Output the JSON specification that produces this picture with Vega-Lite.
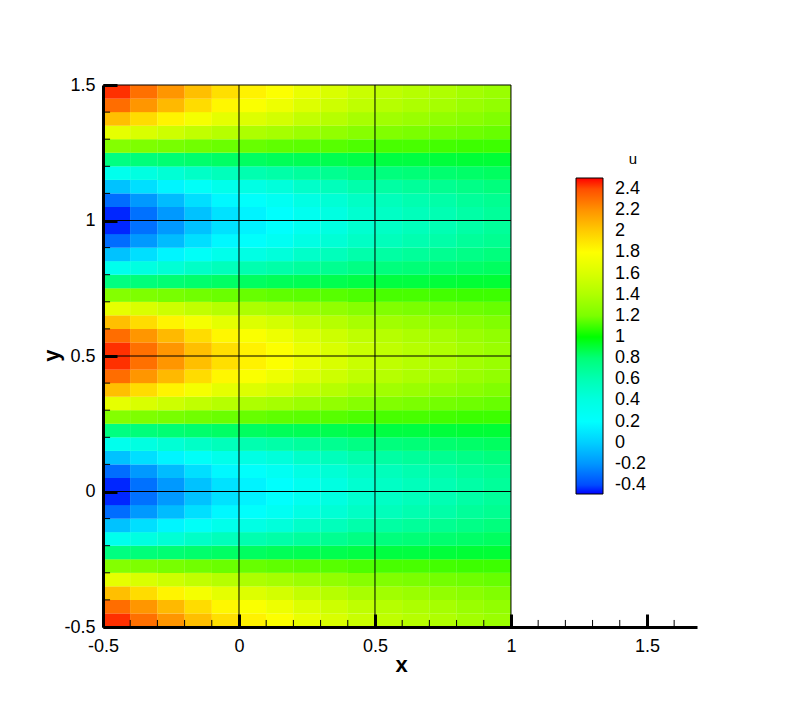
{"$schema":"https://vega.github.io/schema/vega-lite/v6.json","width":594,"height":542,"autosize":{"type":"none"},"padding":{"left":103,"top":85,"right":95,"bottom":77},"background":"white","config":{"view":{"stroke":null},"font":"Liberation Sans"},"datasets":{"cells":[
{"x":-0.45,"y":-0.475,"u":2.46},{"x":-0.45,"y":-0.425,"u":2.32},{"x":-0.45,"y":-0.375,"u":2.05},{"x":-0.45,"y":-0.325,"u":1.67},{"x":-0.45,"y":-0.275,"u":1.23},{"x":-0.45,"y":-0.225,"u":0.77},{"x":-0.45,"y":-0.175,"u":0.33},{"x":-0.45,"y":-0.125,"u":-0.05},{"x":-0.45,"y":-0.075,"u":-0.32},{"x":-0.45,"y":-0.025,"u":-0.46},{"x":-0.45,"y":0.025,"u":-0.46},{"x":-0.45,"y":0.075,"u":-0.32},{"x":-0.45,"y":0.125,"u":-0.05},{"x":-0.45,"y":0.175,"u":0.33},{"x":-0.45,"y":0.225,"u":0.77},{"x":-0.45,"y":0.275,"u":1.23},{"x":-0.45,"y":0.325,"u":1.67},{"x":-0.45,"y":0.375,"u":2.05},{"x":-0.45,"y":0.425,"u":2.32},{"x":-0.45,"y":0.475,"u":2.46},{"x":-0.45,"y":0.525,"u":2.46},{"x":-0.45,"y":0.575,"u":2.32},{"x":-0.45,"y":0.625,"u":2.05},{"x":-0.45,"y":0.675,"u":1.67},{"x":-0.45,"y":0.725,"u":1.23},{"x":-0.45,"y":0.775,"u":0.77},{"x":-0.45,"y":0.825,"u":0.33},{"x":-0.45,"y":0.875,"u":-0.05},{"x":-0.45,"y":0.925,"u":-0.32},{"x":-0.45,"y":0.975,"u":-0.46},{"x":-0.45,"y":1.025,"u":-0.46},{"x":-0.45,"y":1.075,"u":-0.32},{"x":-0.45,"y":1.125,"u":-0.05},{"x":-0.45,"y":1.175,"u":0.33},{"x":-0.45,"y":1.225,"u":0.77},{"x":-0.45,"y":1.275,"u":1.23},{"x":-0.45,"y":1.325,"u":1.67},{"x":-0.45,"y":1.375,"u":2.05},{"x":-0.45,"y":1.425,"u":2.32},{"x":-0.45,"y":1.475,"u":2.46},
{"x":-0.35,"y":-0.475,"u":2.31},{"x":-0.35,"y":-0.425,"u":2.19},{"x":-0.35,"y":-0.375,"u":1.94},{"x":-0.35,"y":-0.325,"u":1.6},{"x":-0.35,"y":-0.275,"u":1.21},{"x":-0.35,"y":-0.225,"u":0.79},{"x":-0.35,"y":-0.175,"u":0.4},{"x":-0.35,"y":-0.125,"u":0.06},{"x":-0.35,"y":-0.075,"u":-0.19},{"x":-0.35,"y":-0.025,"u":-0.31},{"x":-0.35,"y":0.025,"u":-0.31},{"x":-0.35,"y":0.075,"u":-0.19},{"x":-0.35,"y":0.125,"u":0.06},{"x":-0.35,"y":0.175,"u":0.4},{"x":-0.35,"y":0.225,"u":0.79},{"x":-0.35,"y":0.275,"u":1.21},{"x":-0.35,"y":0.325,"u":1.6},{"x":-0.35,"y":0.375,"u":1.94},{"x":-0.35,"y":0.425,"u":2.19},{"x":-0.35,"y":0.475,"u":2.31},{"x":-0.35,"y":0.525,"u":2.31},{"x":-0.35,"y":0.575,"u":2.19},{"x":-0.35,"y":0.625,"u":1.94},{"x":-0.35,"y":0.675,"u":1.6},{"x":-0.35,"y":0.725,"u":1.21},{"x":-0.35,"y":0.775,"u":0.79},{"x":-0.35,"y":0.825,"u":0.4},{"x":-0.35,"y":0.875,"u":0.06},{"x":-0.35,"y":0.925,"u":-0.19},{"x":-0.35,"y":0.975,"u":-0.31},{"x":-0.35,"y":1.025,"u":-0.31},{"x":-0.35,"y":1.075,"u":-0.19},{"x":-0.35,"y":1.125,"u":0.06},{"x":-0.35,"y":1.175,"u":0.4},{"x":-0.35,"y":1.225,"u":0.79},{"x":-0.35,"y":1.275,"u":1.21},{"x":-0.35,"y":1.325,"u":1.6},{"x":-0.35,"y":1.375,"u":1.94},{"x":-0.35,"y":1.425,"u":2.19},{"x":-0.35,"y":1.475,"u":2.31},
{"x":-0.25,"y":-0.475,"u":2.19},{"x":-0.25,"y":-0.425,"u":2.07},{"x":-0.25,"y":-0.375,"u":1.85},{"x":-0.25,"y":-0.325,"u":1.54},{"x":-0.25,"y":-0.275,"u":1.19},{"x":-0.25,"y":-0.225,"u":0.81},{"x":-0.25,"y":-0.175,"u":0.46},{"x":-0.25,"y":-0.125,"u":0.15},{"x":-0.25,"y":-0.075,"u":-0.07},{"x":-0.25,"y":-0.025,"u":-0.19},{"x":-0.25,"y":0.025,"u":-0.19},{"x":-0.25,"y":0.075,"u":-0.07},{"x":-0.25,"y":0.125,"u":0.15},{"x":-0.25,"y":0.175,"u":0.46},{"x":-0.25,"y":0.225,"u":0.81},{"x":-0.25,"y":0.275,"u":1.19},{"x":-0.25,"y":0.325,"u":1.54},{"x":-0.25,"y":0.375,"u":1.85},{"x":-0.25,"y":0.425,"u":2.07},{"x":-0.25,"y":0.475,"u":2.19},{"x":-0.25,"y":0.525,"u":2.19},{"x":-0.25,"y":0.575,"u":2.07},{"x":-0.25,"y":0.625,"u":1.85},{"x":-0.25,"y":0.675,"u":1.54},{"x":-0.25,"y":0.725,"u":1.19},{"x":-0.25,"y":0.775,"u":0.81},{"x":-0.25,"y":0.825,"u":0.46},{"x":-0.25,"y":0.875,"u":0.15},{"x":-0.25,"y":0.925,"u":-0.07},{"x":-0.25,"y":0.975,"u":-0.19},{"x":-0.25,"y":1.025,"u":-0.19},{"x":-0.25,"y":1.075,"u":-0.07},{"x":-0.25,"y":1.125,"u":0.15},{"x":-0.25,"y":1.175,"u":0.46},{"x":-0.25,"y":1.225,"u":0.81},{"x":-0.25,"y":1.275,"u":1.19},{"x":-0.25,"y":1.325,"u":1.54},{"x":-0.25,"y":1.375,"u":1.85},{"x":-0.25,"y":1.425,"u":2.07},{"x":-0.25,"y":1.475,"u":2.19},
{"x":-0.15,"y":-0.475,"u":2.05},{"x":-0.15,"y":-0.425,"u":1.94},{"x":-0.15,"y":-0.375,"u":1.75},{"x":-0.15,"y":-0.325,"u":1.48},{"x":-0.15,"y":-0.275,"u":1.17},{"x":-0.15,"y":-0.225,"u":0.83},{"x":-0.15,"y":-0.175,"u":0.52},{"x":-0.15,"y":-0.125,"u":0.25},{"x":-0.15,"y":-0.075,"u":0.06},{"x":-0.15,"y":-0.025,"u":-0.05},{"x":-0.15,"y":0.025,"u":-0.05},{"x":-0.15,"y":0.075,"u":0.06},{"x":-0.15,"y":0.125,"u":0.25},{"x":-0.15,"y":0.175,"u":0.52},{"x":-0.15,"y":0.225,"u":0.83},{"x":-0.15,"y":0.275,"u":1.17},{"x":-0.15,"y":0.325,"u":1.48},{"x":-0.15,"y":0.375,"u":1.75},{"x":-0.15,"y":0.425,"u":1.94},{"x":-0.15,"y":0.475,"u":2.05},{"x":-0.15,"y":0.525,"u":2.05},{"x":-0.15,"y":0.575,"u":1.94},{"x":-0.15,"y":0.625,"u":1.75},{"x":-0.15,"y":0.675,"u":1.48},{"x":-0.15,"y":0.725,"u":1.17},{"x":-0.15,"y":0.775,"u":0.83},{"x":-0.15,"y":0.825,"u":0.52},{"x":-0.15,"y":0.875,"u":0.25},{"x":-0.15,"y":0.925,"u":0.06},{"x":-0.15,"y":0.975,"u":-0.05},{"x":-0.15,"y":1.025,"u":-0.05},{"x":-0.15,"y":1.075,"u":0.06},{"x":-0.15,"y":1.125,"u":0.25},{"x":-0.15,"y":1.175,"u":0.52},{"x":-0.15,"y":1.225,"u":0.83},{"x":-0.15,"y":1.275,"u":1.17},{"x":-0.15,"y":1.325,"u":1.48},{"x":-0.15,"y":1.375,"u":1.75},{"x":-0.15,"y":1.425,"u":1.94},{"x":-0.15,"y":1.475,"u":2.05},
{"x":-0.05,"y":-0.475,"u":1.93},{"x":-0.05,"y":-0.425,"u":1.84},{"x":-0.05,"y":-0.375,"u":1.66},{"x":-0.05,"y":-0.325,"u":1.43},{"x":-0.05,"y":-0.275,"u":1.15},{"x":-0.05,"y":-0.225,"u":0.85},{"x":-0.05,"y":-0.175,"u":0.57},{"x":-0.05,"y":-0.125,"u":0.34},{"x":-0.05,"y":-0.075,"u":0.16},{"x":-0.05,"y":-0.025,"u":0.07},{"x":-0.05,"y":0.025,"u":0.07},{"x":-0.05,"y":0.075,"u":0.16},{"x":-0.05,"y":0.125,"u":0.34},{"x":-0.05,"y":0.175,"u":0.57},{"x":-0.05,"y":0.225,"u":0.85},{"x":-0.05,"y":0.275,"u":1.15},{"x":-0.05,"y":0.325,"u":1.43},{"x":-0.05,"y":0.375,"u":1.66},{"x":-0.05,"y":0.425,"u":1.84},{"x":-0.05,"y":0.475,"u":1.93},{"x":-0.05,"y":0.525,"u":1.93},{"x":-0.05,"y":0.575,"u":1.84},{"x":-0.05,"y":0.625,"u":1.66},{"x":-0.05,"y":0.675,"u":1.43},{"x":-0.05,"y":0.725,"u":1.15},{"x":-0.05,"y":0.775,"u":0.85},{"x":-0.05,"y":0.825,"u":0.57},{"x":-0.05,"y":0.875,"u":0.34},{"x":-0.05,"y":0.925,"u":0.16},{"x":-0.05,"y":0.975,"u":0.07},{"x":-0.05,"y":1.025,"u":0.07},{"x":-0.05,"y":1.075,"u":0.16},{"x":-0.05,"y":1.125,"u":0.34},{"x":-0.05,"y":1.175,"u":0.57},{"x":-0.05,"y":1.225,"u":0.85},{"x":-0.05,"y":1.275,"u":1.15},{"x":-0.05,"y":1.325,"u":1.43},{"x":-0.05,"y":1.375,"u":1.66},{"x":-0.05,"y":1.425,"u":1.84},{"x":-0.05,"y":1.475,"u":1.93},
{"x":0.05,"y":-0.475,"u":1.86},{"x":0.05,"y":-0.425,"u":1.78},{"x":0.05,"y":-0.375,"u":1.62},{"x":0.05,"y":-0.325,"u":1.39},{"x":0.05,"y":-0.275,"u":1.14},{"x":0.05,"y":-0.225,"u":0.86},{"x":0.05,"y":-0.175,"u":0.61},{"x":0.05,"y":-0.125,"u":0.38},{"x":0.05,"y":-0.075,"u":0.22},{"x":0.05,"y":-0.025,"u":0.14},{"x":0.05,"y":0.025,"u":0.14},{"x":0.05,"y":0.075,"u":0.22},{"x":0.05,"y":0.125,"u":0.38},{"x":0.05,"y":0.175,"u":0.61},{"x":0.05,"y":0.225,"u":0.86},{"x":0.05,"y":0.275,"u":1.14},{"x":0.05,"y":0.325,"u":1.39},{"x":0.05,"y":0.375,"u":1.62},{"x":0.05,"y":0.425,"u":1.78},{"x":0.05,"y":0.475,"u":1.86},{"x":0.05,"y":0.525,"u":1.86},{"x":0.05,"y":0.575,"u":1.78},{"x":0.05,"y":0.625,"u":1.62},{"x":0.05,"y":0.675,"u":1.39},{"x":0.05,"y":0.725,"u":1.14},{"x":0.05,"y":0.775,"u":0.86},{"x":0.05,"y":0.825,"u":0.61},{"x":0.05,"y":0.875,"u":0.38},{"x":0.05,"y":0.925,"u":0.22},{"x":0.05,"y":0.975,"u":0.14},{"x":0.05,"y":1.025,"u":0.14},{"x":0.05,"y":1.075,"u":0.22},{"x":0.05,"y":1.125,"u":0.38},{"x":0.05,"y":1.175,"u":0.61},{"x":0.05,"y":1.225,"u":0.86},{"x":0.05,"y":1.275,"u":1.14},{"x":0.05,"y":1.325,"u":1.39},{"x":0.05,"y":1.375,"u":1.62},{"x":0.05,"y":1.425,"u":1.78},{"x":0.05,"y":1.475,"u":1.86},
{"x":0.15,"y":-0.475,"u":1.79},{"x":0.15,"y":-0.425,"u":1.71},{"x":0.15,"y":-0.375,"u":1.57},{"x":0.15,"y":-0.325,"u":1.36},{"x":0.15,"y":-0.275,"u":1.12},{"x":0.15,"y":-0.225,"u":0.88},{"x":0.15,"y":-0.175,"u":0.64},{"x":0.15,"y":-0.125,"u":0.43},{"x":0.15,"y":-0.075,"u":0.29},{"x":0.15,"y":-0.025,"u":0.21},{"x":0.15,"y":0.025,"u":0.21},{"x":0.15,"y":0.075,"u":0.29},{"x":0.15,"y":0.125,"u":0.43},{"x":0.15,"y":0.175,"u":0.64},{"x":0.15,"y":0.225,"u":0.88},{"x":0.15,"y":0.275,"u":1.12},{"x":0.15,"y":0.325,"u":1.36},{"x":0.15,"y":0.375,"u":1.57},{"x":0.15,"y":0.425,"u":1.71},{"x":0.15,"y":0.475,"u":1.79},{"x":0.15,"y":0.525,"u":1.79},{"x":0.15,"y":0.575,"u":1.71},{"x":0.15,"y":0.625,"u":1.57},{"x":0.15,"y":0.675,"u":1.36},{"x":0.15,"y":0.725,"u":1.12},{"x":0.15,"y":0.775,"u":0.88},{"x":0.15,"y":0.825,"u":0.64},{"x":0.15,"y":0.875,"u":0.43},{"x":0.15,"y":0.925,"u":0.29},{"x":0.15,"y":0.975,"u":0.21},{"x":0.15,"y":1.025,"u":0.21},{"x":0.15,"y":1.075,"u":0.29},{"x":0.15,"y":1.125,"u":0.43},{"x":0.15,"y":1.175,"u":0.64},{"x":0.15,"y":1.225,"u":0.88},{"x":0.15,"y":1.275,"u":1.12},{"x":0.15,"y":1.325,"u":1.36},{"x":0.15,"y":1.375,"u":1.57},{"x":0.15,"y":1.425,"u":1.71},{"x":0.15,"y":1.475,"u":1.79},
{"x":0.25,"y":-0.475,"u":1.69},{"x":0.25,"y":-0.425,"u":1.62},{"x":0.25,"y":-0.375,"u":1.49},{"x":0.25,"y":-0.325,"u":1.32},{"x":0.25,"y":-0.275,"u":1.11},{"x":0.25,"y":-0.225,"u":0.89},{"x":0.25,"y":-0.175,"u":0.68},{"x":0.25,"y":-0.125,"u":0.51},{"x":0.25,"y":-0.075,"u":0.38},{"x":0.25,"y":-0.025,"u":0.31},{"x":0.25,"y":0.025,"u":0.31},{"x":0.25,"y":0.075,"u":0.38},{"x":0.25,"y":0.125,"u":0.51},{"x":0.25,"y":0.175,"u":0.68},{"x":0.25,"y":0.225,"u":0.89},{"x":0.25,"y":0.275,"u":1.11},{"x":0.25,"y":0.325,"u":1.32},{"x":0.25,"y":0.375,"u":1.49},{"x":0.25,"y":0.425,"u":1.62},{"x":0.25,"y":0.475,"u":1.69},{"x":0.25,"y":0.525,"u":1.69},{"x":0.25,"y":0.575,"u":1.62},{"x":0.25,"y":0.625,"u":1.49},{"x":0.25,"y":0.675,"u":1.32},{"x":0.25,"y":0.725,"u":1.11},{"x":0.25,"y":0.775,"u":0.89},{"x":0.25,"y":0.825,"u":0.68},{"x":0.25,"y":0.875,"u":0.51},{"x":0.25,"y":0.925,"u":0.38},{"x":0.25,"y":0.975,"u":0.31},{"x":0.25,"y":1.025,"u":0.31},{"x":0.25,"y":1.075,"u":0.38},{"x":0.25,"y":1.125,"u":0.51},{"x":0.25,"y":1.175,"u":0.68},{"x":0.25,"y":1.225,"u":0.89},{"x":0.25,"y":1.275,"u":1.11},{"x":0.25,"y":1.325,"u":1.32},{"x":0.25,"y":1.375,"u":1.49},{"x":0.25,"y":1.425,"u":1.62},{"x":0.25,"y":1.475,"u":1.69},
{"x":0.35,"y":-0.475,"u":1.6},{"x":0.35,"y":-0.425,"u":1.54},{"x":0.35,"y":-0.375,"u":1.43},{"x":0.35,"y":-0.325,"u":1.28},{"x":0.35,"y":-0.275,"u":1.1},{"x":0.35,"y":-0.225,"u":0.9},{"x":0.35,"y":-0.175,"u":0.72},{"x":0.35,"y":-0.125,"u":0.57},{"x":0.35,"y":-0.075,"u":0.46},{"x":0.35,"y":-0.025,"u":0.4},{"x":0.35,"y":0.025,"u":0.4},{"x":0.35,"y":0.075,"u":0.46},{"x":0.35,"y":0.125,"u":0.57},{"x":0.35,"y":0.175,"u":0.72},{"x":0.35,"y":0.225,"u":0.9},{"x":0.35,"y":0.275,"u":1.1},{"x":0.35,"y":0.325,"u":1.28},{"x":0.35,"y":0.375,"u":1.43},{"x":0.35,"y":0.425,"u":1.54},{"x":0.35,"y":0.475,"u":1.6},{"x":0.35,"y":0.525,"u":1.6},{"x":0.35,"y":0.575,"u":1.54},{"x":0.35,"y":0.625,"u":1.43},{"x":0.35,"y":0.675,"u":1.28},{"x":0.35,"y":0.725,"u":1.1},{"x":0.35,"y":0.775,"u":0.9},{"x":0.35,"y":0.825,"u":0.72},{"x":0.35,"y":0.875,"u":0.57},{"x":0.35,"y":0.925,"u":0.46},{"x":0.35,"y":0.975,"u":0.4},{"x":0.35,"y":1.025,"u":0.4},{"x":0.35,"y":1.075,"u":0.46},{"x":0.35,"y":1.125,"u":0.57},{"x":0.35,"y":1.175,"u":0.72},{"x":0.35,"y":1.225,"u":0.9},{"x":0.35,"y":1.275,"u":1.1},{"x":0.35,"y":1.325,"u":1.28},{"x":0.35,"y":1.375,"u":1.43},{"x":0.35,"y":1.425,"u":1.54},{"x":0.35,"y":1.475,"u":1.6},
{"x":0.45,"y":-0.475,"u":1.52},{"x":0.45,"y":-0.425,"u":1.47},{"x":0.45,"y":-0.375,"u":1.37},{"x":0.45,"y":-0.325,"u":1.24},{"x":0.45,"y":-0.275,"u":1.08},{"x":0.45,"y":-0.225,"u":0.92},{"x":0.45,"y":-0.175,"u":0.76},{"x":0.45,"y":-0.125,"u":0.63},{"x":0.45,"y":-0.075,"u":0.53},{"x":0.45,"y":-0.025,"u":0.48},{"x":0.45,"y":0.025,"u":0.48},{"x":0.45,"y":0.075,"u":0.53},{"x":0.45,"y":0.125,"u":0.63},{"x":0.45,"y":0.175,"u":0.76},{"x":0.45,"y":0.225,"u":0.92},{"x":0.45,"y":0.275,"u":1.08},{"x":0.45,"y":0.325,"u":1.24},{"x":0.45,"y":0.375,"u":1.37},{"x":0.45,"y":0.425,"u":1.47},{"x":0.45,"y":0.475,"u":1.52},{"x":0.45,"y":0.525,"u":1.52},{"x":0.45,"y":0.575,"u":1.47},{"x":0.45,"y":0.625,"u":1.37},{"x":0.45,"y":0.675,"u":1.24},{"x":0.45,"y":0.725,"u":1.08},{"x":0.45,"y":0.775,"u":0.92},{"x":0.45,"y":0.825,"u":0.76},{"x":0.45,"y":0.875,"u":0.63},{"x":0.45,"y":0.925,"u":0.53},{"x":0.45,"y":0.975,"u":0.48},{"x":0.45,"y":1.025,"u":0.48},{"x":0.45,"y":1.075,"u":0.53},{"x":0.45,"y":1.125,"u":0.63},{"x":0.45,"y":1.175,"u":0.76},{"x":0.45,"y":1.225,"u":0.92},{"x":0.45,"y":1.275,"u":1.08},{"x":0.45,"y":1.325,"u":1.24},{"x":0.45,"y":1.375,"u":1.37},{"x":0.45,"y":1.425,"u":1.47},{"x":0.45,"y":1.475,"u":1.52},
{"x":0.55,"y":-0.475,"u":1.47},{"x":0.55,"y":-0.425,"u":1.43},{"x":0.55,"y":-0.375,"u":1.34},{"x":0.55,"y":-0.325,"u":1.22},{"x":0.55,"y":-0.275,"u":1.07},{"x":0.55,"y":-0.225,"u":0.93},{"x":0.55,"y":-0.175,"u":0.78},{"x":0.55,"y":-0.125,"u":0.66},{"x":0.55,"y":-0.075,"u":0.57},{"x":0.55,"y":-0.025,"u":0.53},{"x":0.55,"y":0.025,"u":0.53},{"x":0.55,"y":0.075,"u":0.57},{"x":0.55,"y":0.125,"u":0.66},{"x":0.55,"y":0.175,"u":0.78},{"x":0.55,"y":0.225,"u":0.93},{"x":0.55,"y":0.275,"u":1.07},{"x":0.55,"y":0.325,"u":1.22},{"x":0.55,"y":0.375,"u":1.34},{"x":0.55,"y":0.425,"u":1.43},{"x":0.55,"y":0.475,"u":1.47},{"x":0.55,"y":0.525,"u":1.47},{"x":0.55,"y":0.575,"u":1.43},{"x":0.55,"y":0.625,"u":1.34},{"x":0.55,"y":0.675,"u":1.22},{"x":0.55,"y":0.725,"u":1.07},{"x":0.55,"y":0.775,"u":0.93},{"x":0.55,"y":0.825,"u":0.78},{"x":0.55,"y":0.875,"u":0.66},{"x":0.55,"y":0.925,"u":0.57},{"x":0.55,"y":0.975,"u":0.53},{"x":0.55,"y":1.025,"u":0.53},{"x":0.55,"y":1.075,"u":0.57},{"x":0.55,"y":1.125,"u":0.66},{"x":0.55,"y":1.175,"u":0.78},{"x":0.55,"y":1.225,"u":0.93},{"x":0.55,"y":1.275,"u":1.07},{"x":0.55,"y":1.325,"u":1.22},{"x":0.55,"y":1.375,"u":1.34},{"x":0.55,"y":1.425,"u":1.43},{"x":0.55,"y":1.475,"u":1.47},
{"x":0.65,"y":-0.475,"u":1.43},{"x":0.65,"y":-0.425,"u":1.39},{"x":0.65,"y":-0.375,"u":1.31},{"x":0.65,"y":-0.325,"u":1.2},{"x":0.65,"y":-0.275,"u":1.07},{"x":0.65,"y":-0.225,"u":0.93},{"x":0.65,"y":-0.175,"u":0.8},{"x":0.65,"y":-0.125,"u":0.69},{"x":0.65,"y":-0.075,"u":0.61},{"x":0.65,"y":-0.025,"u":0.57},{"x":0.65,"y":0.025,"u":0.57},{"x":0.65,"y":0.075,"u":0.61},{"x":0.65,"y":0.125,"u":0.69},{"x":0.65,"y":0.175,"u":0.8},{"x":0.65,"y":0.225,"u":0.93},{"x":0.65,"y":0.275,"u":1.07},{"x":0.65,"y":0.325,"u":1.2},{"x":0.65,"y":0.375,"u":1.31},{"x":0.65,"y":0.425,"u":1.39},{"x":0.65,"y":0.475,"u":1.43},{"x":0.65,"y":0.525,"u":1.43},{"x":0.65,"y":0.575,"u":1.39},{"x":0.65,"y":0.625,"u":1.31},{"x":0.65,"y":0.675,"u":1.2},{"x":0.65,"y":0.725,"u":1.07},{"x":0.65,"y":0.775,"u":0.93},{"x":0.65,"y":0.825,"u":0.8},{"x":0.65,"y":0.875,"u":0.69},{"x":0.65,"y":0.925,"u":0.61},{"x":0.65,"y":0.975,"u":0.57},{"x":0.65,"y":1.025,"u":0.57},{"x":0.65,"y":1.075,"u":0.61},{"x":0.65,"y":1.125,"u":0.69},{"x":0.65,"y":1.175,"u":0.8},{"x":0.65,"y":1.225,"u":0.93},{"x":0.65,"y":1.275,"u":1.07},{"x":0.65,"y":1.325,"u":1.2},{"x":0.65,"y":1.375,"u":1.31},{"x":0.65,"y":1.425,"u":1.39},{"x":0.65,"y":1.475,"u":1.43},
{"x":0.75,"y":-0.475,"u":1.4},{"x":0.75,"y":-0.425,"u":1.36},{"x":0.75,"y":-0.375,"u":1.28},{"x":0.75,"y":-0.325,"u":1.18},{"x":0.75,"y":-0.275,"u":1.06},{"x":0.75,"y":-0.225,"u":0.94},{"x":0.75,"y":-0.175,"u":0.82},{"x":0.75,"y":-0.125,"u":0.72},{"x":0.75,"y":-0.075,"u":0.64},{"x":0.75,"y":-0.025,"u":0.6},{"x":0.75,"y":0.025,"u":0.6},{"x":0.75,"y":0.075,"u":0.64},{"x":0.75,"y":0.125,"u":0.72},{"x":0.75,"y":0.175,"u":0.82},{"x":0.75,"y":0.225,"u":0.94},{"x":0.75,"y":0.275,"u":1.06},{"x":0.75,"y":0.325,"u":1.18},{"x":0.75,"y":0.375,"u":1.28},{"x":0.75,"y":0.425,"u":1.36},{"x":0.75,"y":0.475,"u":1.4},{"x":0.75,"y":0.525,"u":1.4},{"x":0.75,"y":0.575,"u":1.36},{"x":0.75,"y":0.625,"u":1.28},{"x":0.75,"y":0.675,"u":1.18},{"x":0.75,"y":0.725,"u":1.06},{"x":0.75,"y":0.775,"u":0.94},{"x":0.75,"y":0.825,"u":0.82},{"x":0.75,"y":0.875,"u":0.72},{"x":0.75,"y":0.925,"u":0.64},{"x":0.75,"y":0.975,"u":0.6},{"x":0.75,"y":1.025,"u":0.6},{"x":0.75,"y":1.075,"u":0.64},{"x":0.75,"y":1.125,"u":0.72},{"x":0.75,"y":1.175,"u":0.82},{"x":0.75,"y":1.225,"u":0.94},{"x":0.75,"y":1.275,"u":1.06},{"x":0.75,"y":1.325,"u":1.18},{"x":0.75,"y":1.375,"u":1.28},{"x":0.75,"y":1.425,"u":1.36},{"x":0.75,"y":1.475,"u":1.4},
{"x":0.85,"y":-0.475,"u":1.35},{"x":0.85,"y":-0.425,"u":1.31},{"x":0.85,"y":-0.375,"u":1.25},{"x":0.85,"y":-0.325,"u":1.16},{"x":0.85,"y":-0.275,"u":1.05},{"x":0.85,"y":-0.225,"u":0.95},{"x":0.85,"y":-0.175,"u":0.84},{"x":0.85,"y":-0.125,"u":0.75},{"x":0.85,"y":-0.075,"u":0.69},{"x":0.85,"y":-0.025,"u":0.65},{"x":0.85,"y":0.025,"u":0.65},{"x":0.85,"y":0.075,"u":0.69},{"x":0.85,"y":0.125,"u":0.75},{"x":0.85,"y":0.175,"u":0.84},{"x":0.85,"y":0.225,"u":0.95},{"x":0.85,"y":0.275,"u":1.05},{"x":0.85,"y":0.325,"u":1.16},{"x":0.85,"y":0.375,"u":1.25},{"x":0.85,"y":0.425,"u":1.31},{"x":0.85,"y":0.475,"u":1.35},{"x":0.85,"y":0.525,"u":1.35},{"x":0.85,"y":0.575,"u":1.31},{"x":0.85,"y":0.625,"u":1.25},{"x":0.85,"y":0.675,"u":1.16},{"x":0.85,"y":0.725,"u":1.05},{"x":0.85,"y":0.775,"u":0.95},{"x":0.85,"y":0.825,"u":0.84},{"x":0.85,"y":0.875,"u":0.75},{"x":0.85,"y":0.925,"u":0.69},{"x":0.85,"y":0.975,"u":0.65},{"x":0.85,"y":1.025,"u":0.65},{"x":0.85,"y":1.075,"u":0.69},{"x":0.85,"y":1.125,"u":0.75},{"x":0.85,"y":1.175,"u":0.84},{"x":0.85,"y":1.225,"u":0.95},{"x":0.85,"y":1.275,"u":1.05},{"x":0.85,"y":1.325,"u":1.16},{"x":0.85,"y":1.375,"u":1.25},{"x":0.85,"y":1.425,"u":1.31},{"x":0.85,"y":1.475,"u":1.35},
{"x":0.95,"y":-0.475,"u":1.31},{"x":0.95,"y":-0.425,"u":1.28},{"x":0.95,"y":-0.375,"u":1.22},{"x":0.95,"y":-0.325,"u":1.14},{"x":0.95,"y":-0.275,"u":1.05},{"x":0.95,"y":-0.225,"u":0.95},{"x":0.95,"y":-0.175,"u":0.86},{"x":0.95,"y":-0.125,"u":0.78},{"x":0.95,"y":-0.075,"u":0.72},{"x":0.95,"y":-0.025,"u":0.69},{"x":0.95,"y":0.025,"u":0.69},{"x":0.95,"y":0.075,"u":0.72},{"x":0.95,"y":0.125,"u":0.78},{"x":0.95,"y":0.175,"u":0.86},{"x":0.95,"y":0.225,"u":0.95},{"x":0.95,"y":0.275,"u":1.05},{"x":0.95,"y":0.325,"u":1.14},{"x":0.95,"y":0.375,"u":1.22},{"x":0.95,"y":0.425,"u":1.28},{"x":0.95,"y":0.475,"u":1.31},{"x":0.95,"y":0.525,"u":1.31},{"x":0.95,"y":0.575,"u":1.28},{"x":0.95,"y":0.625,"u":1.22},{"x":0.95,"y":0.675,"u":1.14},{"x":0.95,"y":0.725,"u":1.05},{"x":0.95,"y":0.775,"u":0.95},{"x":0.95,"y":0.825,"u":0.86},{"x":0.95,"y":0.875,"u":0.78},{"x":0.95,"y":0.925,"u":0.72},{"x":0.95,"y":0.975,"u":0.69},{"x":0.95,"y":1.025,"u":0.69},{"x":0.95,"y":1.075,"u":0.72},{"x":0.95,"y":1.125,"u":0.78},{"x":0.95,"y":1.175,"u":0.86},{"x":0.95,"y":1.225,"u":0.95},{"x":0.95,"y":1.275,"u":1.05},{"x":0.95,"y":1.325,"u":1.14},{"x":0.95,"y":1.375,"u":1.22},{"x":0.95,"y":1.425,"u":1.28},{"x":0.95,"y":1.475,"u":1.31}
],"vlines":[{"x":0,"y":-0.5,"y2":1.5},{"x":0.5,"y":-0.5,"y2":1.5},{"x":1,"y":-0.5,"y2":1.5},{"x":-0.4,"y":-0.5,"y2":-0.474},{"x":-0.3,"y":-0.5,"y2":-0.474},{"x":-0.2,"y":-0.5,"y2":-0.474},{"x":-0.1,"y":-0.5,"y2":-0.474},{"x":0.1,"y":-0.5,"y2":-0.474},{"x":0.2,"y":-0.5,"y2":-0.474},{"x":0.3,"y":-0.5,"y2":-0.474},{"x":0.4,"y":-0.5,"y2":-0.474},{"x":0.6,"y":-0.5,"y2":-0.474},{"x":0.7,"y":-0.5,"y2":-0.474},{"x":0.8,"y":-0.5,"y2":-0.474},{"x":0.9,"y":-0.5,"y2":-0.474},{"x":1.1,"y":-0.5,"y2":-0.474},{"x":1.2,"y":-0.5,"y2":-0.474},{"x":1.3,"y":-0.5,"y2":-0.474},{"x":1.4,"y":-0.5,"y2":-0.474},{"x":1.6,"y":-0.5,"y2":-0.474}],"hlines":[{"y":0,"x":-0.5,"x2":1},{"y":0.5,"x":-0.5,"x2":1},{"y":1,"x":-0.5,"x2":1},{"y":1.5,"x":-0.5,"x2":1},{"y":-0.4,"x":-0.5,"x2":-0.474},{"y":-0.3,"x":-0.5,"x2":-0.474},{"y":-0.2,"x":-0.5,"x2":-0.474},{"y":-0.1,"x":-0.5,"x2":-0.474},{"y":0.1,"x":-0.5,"x2":-0.474},{"y":0.2,"x":-0.5,"x2":-0.474},{"y":0.3,"x":-0.5,"x2":-0.474},{"y":0.4,"x":-0.5,"x2":-0.474},{"y":0.6,"x":-0.5,"x2":-0.474},{"y":0.7,"x":-0.5,"x2":-0.474},{"y":0.8,"x":-0.5,"x2":-0.474},{"y":0.9,"x":-0.5,"x2":-0.474},{"y":1.1,"x":-0.5,"x2":-0.474},{"y":1.2,"x":-0.5,"x2":-0.474},{"y":1.3,"x":-0.5,"x2":-0.474},{"y":1.4,"x":-0.5,"x2":-0.474}]},"layer":[{"data":{"name":"cells"},"mark":{"type":"rect","width":27.4,"height":13.7},"encoding":{"x":{"field":"x","type":"quantitative","scale":{"domain":[-0.5,1.684],"nice":false,"zero":false},"title":"x","axis":{"values":[-0.5,0,0.5,1,1.5],"format":"~g","labelExpr":"replace(datum.label,'−','-')","grid":false,"zindex":1,"domainColor":"black","domainWidth":3,"tickColor":"black","tickSize":-13,"tickWidth":3,"labelFont":"Liberation Sans","labelFontSize":18,"labelColor":"black","labelPadding":23,"labelFlush":false,"labelOverlap":false,"titleFont":"Liberation Sans","titleFontSize":22,"titleFontWeight":"bold","titleColor":"black","titleAnchor":"start","titleX":292,"titleY":44,"titleBaseline":"alphabetic"}},"y":{"field":"y","type":"quantitative","scale":{"domain":[-0.5,1.5],"nice":false,"zero":false},"title":"y","axis":{"values":[-0.5,0,0.5,1,1.5],"format":"~g","labelExpr":"replace(datum.label,'−','-')","grid":false,"zindex":1,"domainColor":"black","domainWidth":3,"tickColor":"black","tickSize":-14,"tickWidth":3,"labelFont":"Liberation Sans","labelFontSize":18,"labelColor":"black","labelPadding":22,"labelFlush":false,"labelOverlap":false,"titleFont":"Liberation Sans","titleFontSize":22,"titleFontWeight":"bold","titleColor":"black","titleX":-52,"titleY":270,"titleBaseline":"middle"}},"color":{"field":"u","type":"quantitative","scale":{"domain":[-0.485,0.192,1,1.808,2.504],"range":["#0000ff","#00ffff","#00ff00","#ffff00","#ff0000"],"clamp":true},"legend":{"orient":"none","legendX":473,"legendY":67,"title":"u","titleFont":"Liberation Sans","titleFontSize":15,"titleFontWeight":"normal","titleColor":"black","titleAnchor":"end","titlePadding":11,"gradientLength":316,"gradientThickness":27,"gradientStrokeColor":"black","gradientStrokeWidth":1,"values":[-0.4,-0.2,0,0.2,0.4,0.6,0.8,1,1.2,1.4,1.6,1.8,2,2.2,2.4],"format":"~g","labelExpr":"replace(datum.label,'−','-')","labelFont":"Liberation Sans","labelFontSize":18,"labelColor":"black","labelOffset":12,"labelOverlap":false,"tickCount":15,"encoding":{"title":{"dx":{"value":-9}}}}}}},{"data":{"name":"vlines"},"mark":{"type":"rule","color":"black","strokeWidth":1},"encoding":{"x":{"field":"x","type":"quantitative"},"y":{"field":"y","type":"quantitative"},"y2":{"field":"y2"}}},{"data":{"name":"hlines"},"mark":{"type":"rule","color":"black","strokeWidth":1},"encoding":{"y":{"field":"y","type":"quantitative"},"x":{"field":"x","type":"quantitative"},"x2":{"field":"x2"}}}]}
